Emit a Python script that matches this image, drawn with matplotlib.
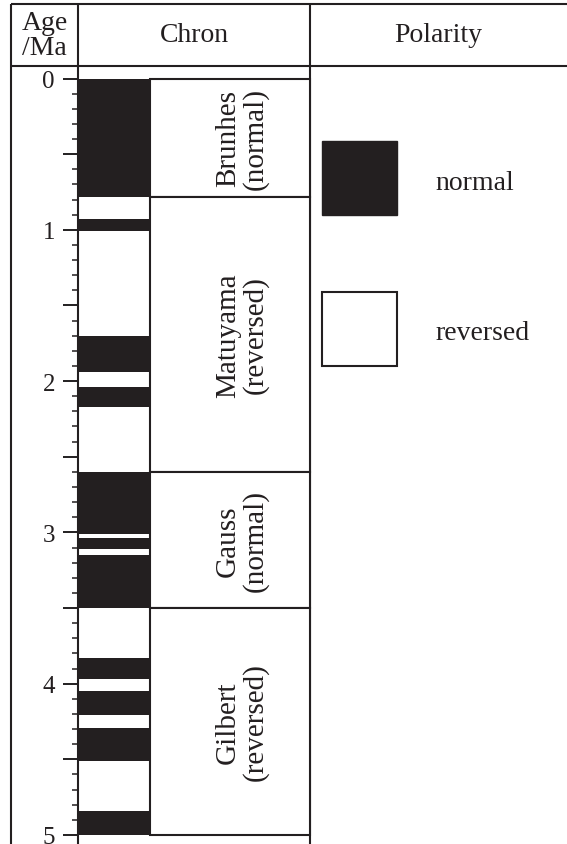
import numpy as np
import matplotlib
matplotlib.use('Agg')
import matplotlib.pyplot as plt
from matplotlib.patches import Rectangle

plt.rcParams['font.family'] = ['Liberation Serif', 'DejaVu Serif']

ink = '#231f20'

# normal-polarity intervals (Ma)
normal_top = [0.0, 0.93, 1.70, 2.04, 2.60, 3.035, 3.15, 3.83, 4.05, 4.29, 4.84]
normal_base = [0.78, 1.01, 1.94, 2.17, 3.01, 3.11, 3.50, 3.97, 4.21, 4.51, 5.0]

chron_names = ['Brunhes', 'Matuyama', 'Gauss', 'Gilbert']
chron_polarity = ['normal', 'reversed', 'normal', 'reversed']
chron_bounds = [0.0, 0.78, 2.60, 3.50, 5.0]

age_labels = ['0', '1', '2', '3', '4', '5']
legend_labels = ['normal', 'reversed']

W, H = 567, 845
fig = plt.figure(figsize=(W / 100, H / 100), dpi=100)

# background axes in pixel units for the table frame + legend
bg = fig.add_axes([0, 0, 1, 1])
bg.set_xlim(0, W)
bg.set_ylim(H, 0)
bg.axis('off')

lw = 1.5
bg.plot([11, W], [5, 5], color=ink, lw=lw, solid_capstyle='butt')
bg.plot([11, W], [67, 67], color=ink, lw=lw, solid_capstyle='butt')
bg.plot([11, 11], [5, H], color=ink, lw=lw, solid_capstyle='butt')
bg.plot([78, 78], [5, 67], color=ink, lw=lw, solid_capstyle='butt')
bg.plot([310, 310], [5, H], color=ink, lw=lw, solid_capstyle='butt')

bg.text(44.5, 36, 'Age\n/Ma', ha='center', va='center', fontsize=20,
        linespacing=0.95, color=ink)
bg.text(194, 36, 'Chron', ha='center', va='center', fontsize=20, color=ink)
bg.text(438.5, 36, 'Polarity', ha='center', va='center', fontsize=20, color=ink)

# legend
bg.add_patch(Rectangle((322, 141.7), 75, 74.3, fc=ink, ec=ink, lw=1))
bg.add_patch(Rectangle((322, 292.7), 75, 74, fc='white', ec=ink, lw=lw))
bg.text(435, 190, legend_labels[0], ha='left', va='baseline', fontsize=20, color=ink)
bg.text(435, 340, legend_labels[1], ha='left', va='baseline', fontsize=20, color=ink)

# main axes: x in pixels, y in Ma
y0, scale = 79.5, 151.3
ax = fig.add_axes([78 / W, 0, (W - 78) / W, (H - 67) / H])
ax.patch.set_alpha(0)
ax.set_xlim(78, W)
ax.set_ylim((H - y0) / scale, (67 - y0) / scale)
for s in ['top', 'right', 'bottom']:
    ax.spines[s].set_visible(False)
ax.spines['left'].set_color(ink)
ax.spines['left'].set_linewidth(lw)

top = np.array(normal_top)
base = np.array(normal_base)
ax.bar(114, base - top, bottom=top, width=72, color=ink, lw=0)

bounds = np.array(chron_bounds)
ax.bar(230, np.diff(bounds), bottom=bounds[:-1], width=160,
       facecolor='white', edgecolor=ink, lw=lw)
for name, pol, a, b in zip(chron_names, chron_polarity, bounds[:-1], bounds[1:]):
    ax.text(242, (a + b) / 2, f'{name}\n({pol})', rotation=90, ha='center',
            va='center', fontsize=21, linespacing=1.05, multialignment='center',
            color=ink)

major = np.arange(0, 5.01, 0.5)
labels = [age_labels[int(v)] if v == int(v) else '' for v in major]
ax.set_yticks(major, labels)
ax.set_yticks(np.arange(0, 5.01, 0.1), minor=True)
ax.set_xticks([])
ax.tick_params(axis='y', which='major', length=10.8, width=1.4, pad=5.8,
               labelsize=18, color=ink, labelcolor=ink)
ax.tick_params(axis='y', which='minor', length=4.3, width=1.1, color=ink)

fig.savefig('out.png', dpi=100)
